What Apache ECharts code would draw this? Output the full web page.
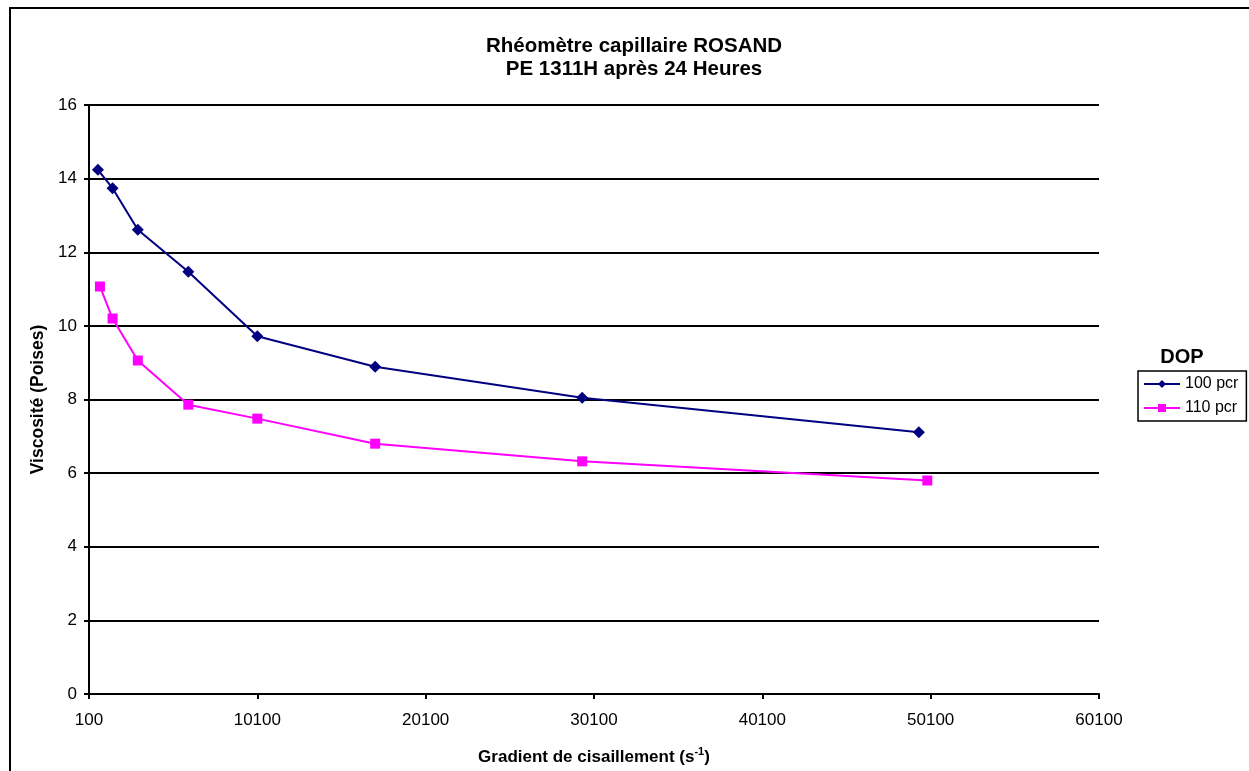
<!DOCTYPE html>
<html>
<head>
<meta charset="utf-8">
<script src="https://cdn.jsdelivr.net/npm/echarts@6/dist/echarts.min.js"></script>
<style>html,body{margin:0;padding:0;background:#fff;}#c{width:1249px;height:771px;}</style>
</head>
<body>
<div id="c"></div>
<script>
const titleLines = ['Rhéomètre capillaire ROSAND', 'PE 1311H après 24 Heures'];
const legendTitle = 'DOP';
const seriesNames = ['100 pcr', '110 pcr'];
const x100 = [630, 1500, 3000, 6000, 10100, 17100, 29400, 49400];
const y100 = [14.24, 13.74, 12.61, 11.47, 9.72, 8.89, 8.05, 7.11];
const x110 = [750, 1500, 3000, 6000, 10100, 17100, 29400, 49900];
const y110 = [11.07, 10.2, 9.06, 7.86, 7.48, 6.8, 6.32, 5.8];
const xTicks = [100, 10100, 20100, 30100, 40100, 50100, 60100];
const yTicks = [0, 2, 4, 6, 8, 10, 12, 14, 16];

const font = 'Liberation Sans, Arial, sans-serif';
const chart = echarts.init(document.getElementById('c'));
const pair = (xs, ys) => xs.map((x, i) => [x, ys[i]]);
chart.setOption({
  animation: false,
  backgroundColor: '#fff',
  graphic: [
    {type: 'rect', shape: {x: 10, y: 8, width: 1260, height: 790}, style: {fill: 'none', stroke: '#000', lineWidth: 2}, silent: true},
    {type: 'text', x: 1182, y: 357, style: {text: legendTitle, font: 'bold 20px ' + font, fill: '#000', align: 'center', verticalAlign: 'middle'}}
  ],
  title: {
    text: titleLines.join('\n'),
    left: 629, top: 30, textAlign: 'center',
    textStyle: {fontFamily: font, fontWeight: 'bold', fontSize: 20.5, lineHeight: 23, color: '#000'}
  },
  legend: {
    orient: 'vertical', left: 1138, top: 371,
    data: seriesNames,
    itemWidth: 36, itemHeight: 10, itemGap: 8,
    padding: [5, 8, 5, 5],
    borderColor: '#000', borderWidth: 1.5,
    textStyle: {fontFamily: font, fontSize: 16, color: '#000'}
  },
  grid: {left: 89, right: 150, top: 105, bottom: 77, containLabel: false},
  xAxis: {
    type: 'value', min: 100, max: 60100, interval: 10000,
    name: 'Gradient de cisaillement (s{sup|-1})',
    nameLocation: 'middle', nameGap: 52,
    nameTextStyle: {fontFamily: font, fontWeight: 'bold', fontSize: 17, color: '#000',
      rich: {sup: {fontFamily: font, fontWeight: 'bold', fontSize: 11, verticalAlign: 'bottom', padding: [0, 0, 12, 0], color: '#000'}}},
    axisLine: {lineStyle: {color: '#000', width: 2}},
    axisTick: {show: true, length: 5, lineStyle: {color: '#000', width: 2}, customValues: xTicks},
    axisLabel: {fontFamily: font, fontSize: 17, color: '#000', margin: 18, customValues: xTicks, formatter: v => String(v)},
    splitLine: {show: false}
  },
  yAxis: {
    type: 'value', min: 0, max: 16, interval: 2,
    name: 'Viscosité (Poises)', nameLocation: 'middle', nameGap: 41,
    nameTextStyle: {fontFamily: font, fontWeight: 'bold', fontSize: 17.5, color: '#000'},
    axisLine: {show: true, lineStyle: {color: '#000', width: 2}},
    axisTick: {show: true, length: 5, lineStyle: {color: '#000', width: 2}},
    axisLabel: {fontFamily: font, fontSize: 17, color: '#000', margin: 12, customValues: yTicks},
    splitLine: {show: true, lineStyle: {color: '#000', width: 2}}
  },
  series: [
    {name: seriesNames[0], type: 'line', data: pair(x100, y100), symbol: 'diamond', symbolSize: 12,
      itemStyle: {color: '#000080'}, lineStyle: {color: '#000080', width: 2}},
    {name: seriesNames[1], type: 'line', data: pair(x110, y110), symbol: 'rect', symbolSize: 10,
      itemStyle: {color: '#ff00ff'}, lineStyle: {color: '#ff00ff', width: 2}}
  ]
});
</script>
</body>
</html>
